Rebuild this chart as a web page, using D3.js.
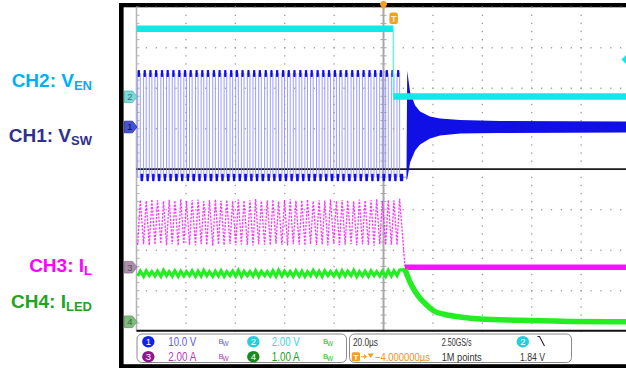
<!DOCTYPE html>
<html><head><meta charset="utf-8">
<script src="https://cdn.jsdelivr.net/npm/d3@7"></script>
<style>body{margin:0;background:#fff;overflow:hidden} svg{display:block}</style>
</head><body><svg id="c" width="626" height="368"></svg>
<script>
// ---------------- DATA ----------------
// time axis: 20 µs/div, 10 divisions; t = 0 at trigger (CH2 falling edge)
const timeDomain = [-104, 96];
const channelLabels = ["CH2: V", "CH1: V", "CH3: I", "CH4: I"];
const channelSubs = ["EN", "SW", "L", "LED"];
const voltsPerDiv = [10, 2, 2, 1];          // CH1..CH4
const scaleTexts = ["10.0 V", "2.00 V", "2.00 A", "1.00 A"];
// CH2 (EN)
const enTime = [-104, 0, 0, 96];
const enVolt = [3.36, 3.36, 0.02, 0.02];
const trigLevel = 1.84;
// CH1 (SW) switching pulses: centre times of the high phase (µs)
const swPulseCenter = [-103.0,-100.6,-98.3,-96.0,-93.6,-91.3,-89.0,-86.6,-84.3,-82.0,
  -79.6,-77.3,-75.0,-72.6,-70.3,-68.0,-65.6,-63.3,-61.0,-58.6,-56.3,-54.0,-51.6,-49.3,
  -47.0,-44.6,-42.3,-40.0,-37.6,-35.3,-33.0,-30.6,-28.3,-26.0,-23.6,-21.3,-19.0,-16.6,
  -14.3,-12.0,-9.6,-7.3,-5.0,-2.6,-0.3,2.0];
const swHalfWidth = 0.53;                   // µs
const swHigh = 13.2, swLow = -12.4;         // V
// CH1 ringing envelope after shutdown
const ringTime  = [5.3, 5.6, 6.8, 8.8, 10.8, 14.8, 18.9, 27, 43, 96];
const ringUpper = [-12.3, 13.3, 7.9, 4.7, 3.2, 2.0, 1.5, 1.1, 0.86, 0.75];
const ringLower = [-12.4, -12.3, -8.1, -5.2, -3.7, -2.2, -1.5, -1.0, -0.86, -0.74];
// CH3 (IL) ripple peaks / valleys per switching cycle (A)
const ilPeak = [3.32,3.28,3.35,3.30,3.26,3.33,3.29,3.36,3.27,3.31,3.34,3.25,3.30,3.35,3.28,3.32,
  3.26,3.34,3.29,3.31,3.36,3.27,3.30,3.33,3.25,3.32,3.35,3.28,3.30,3.34,3.26,3.31,3.29,3.35,
  3.27,3.32,3.30,3.26,3.34,3.29,3.31,3.36,3.28,3.32,3.30,3.38];
const ilValley = [1.10,1.14,1.08,1.12,1.16,1.09,1.13,1.07,1.15,1.11,1.08,1.14,1.10,1.06,1.13,
  1.09,1.15,1.08,1.12,1.10,1.07,1.14,1.11,1.09,1.15,1.10,1.07,1.13,1.11,1.08,1.14,1.10,1.12,
  1.07,1.15,1.09,1.11,1.14,1.08,1.12,1.10,1.06,1.13,1.09,1.11,1.10];
const ilOffTime = [4.7, 96];
const ilOffAmp = [0.0, 0.0];
// CH4 (ILED) ripple
const iledPeak = [1.25,1.26,1.24,1.25,1.27,1.24,1.26,1.25,1.24,1.26,1.25,1.27,1.24,1.25,1.26,1.24,
  1.25,1.27,1.25,1.24,1.26,1.25,1.24,1.26,1.27,1.25,1.24,1.26,1.25,1.24,1.27,1.25,1.26,1.24,
  1.25,1.26,1.25,1.27,1.24,1.25,1.26,1.24,1.25,1.27,1.26,1.28];
const iledValley = [1.13,1.12,1.14,1.13,1.12,1.14,1.13,1.12,1.13,1.14,1.12,1.13,1.14,1.12,1.13,
  1.12,1.14,1.13,1.12,1.14,1.13,1.12,1.14,1.13,1.12,1.13,1.14,1.12,1.13,1.12,1.14,1.13,1.12,
  1.14,1.13,1.12,1.13,1.14,1.12,1.13,1.12,1.14,1.13,1.12,1.13,1.14];
const iledDecayTime = [4.7, 6.8, 8.8, 10.8, 13.6, 16.1, 20.9, 27.0, 35.1, 51.3, 71.5, 96];
const iledDecayAmp  = [1.29, 0.97, 0.75, 0.58, 0.41, 0.28, 0.18, 0.12, 0.07, 0.04, 0.01, 0.0];
// acquisition info
const timeBase = "20.0µs", sampleRate = "2.50GS/s", recordLen = "1M points";
const trigDelay = "−4.000000µs", trigLevelText = "1.84 V";

// ---------------- LAYOUT ----------------
const W = 626, H = 368;
const svg = d3.select('#c');
const gx0 = 136.5, gx1 = 630.5, gy0 = 7.2, gy1 = 331.2;
const divX = (gx1 - gx0) / 10, divY = (gy1 - gy0) / 8;
const x = d3.scaleLinear().domain(timeDomain).range([gx0, gx1]);
const chScale = (perDiv, zeroY) => d3.scaleLinear().domain([0, perDiv]).range([zeroY, zeroY - divY]);
const y1 = chScale(voltsPerDiv[0], 127.0);
const y2 = chScale(voltsPerDiv[1], 96.8);
const y3 = chScale(voltsPerDiv[2], 267.2);
const y4 = chScale(voltsPerDiv[3], 321.8);
const C = {en:'#12e8e8', sw:'#1010e6', swEdge:'#9090ff', il:'#ff10ff', iled:'#22ee22'};

// frame
svg.append('rect').attr('x',119).attr('y',3).attr('width',W-119).attr('height',4.3).attr('fill','#000');
svg.append('rect').attr('x',119).attr('y',3).attr('width',4.6).attr('height',H-3).attr('fill','#000');
svg.append('rect').attr('x',119).attr('y',364.2).attr('width',W-119).attr('height',4).attr('fill','#000');

// graticule
const grid = svg.append('g');
for (let i = 1; i <= 9; i++) {
  if (i === 5) continue;
  const gx = gx0 + i * divX;
  for (let j = 0; j <= 40; j++) grid.append('rect').attr('x', gx - 0.6).attr('y', gy0 + j * divY / 5 - 0.6)
    .attr('width', 1.3).attr('height', 1.3).attr('fill', '#9a9a9a');
}
for (let j = 0; j <= 7; j++) {
  if (j === 4) continue;
  const gy = gy0 + j * divY;
  for (let i = 0; i <= 50; i++) grid.append('rect').attr('x', gx0 + i * divX / 5 - 0.6).attr('y', gy - 0.6)
    .attr('width', 1.3).attr('height', 1.3).attr('fill', '#9a9a9a');
}
const xc = gx0 + 5 * divX, yc = gy0 + 4 * divY;
grid.append('line').attr('x1', xc).attr('x2', xc).attr('y1', gy0).attr('y2', gy1).attr('stroke', '#a8a8a8').attr('stroke-width', 2);
grid.append('line').attr('x1', gx0).attr('x2', gx0).attr('y1', gy0).attr('y2', gy1).attr('stroke', '#b4b4b4').attr('stroke-width', 1.5);
for (let j = 0; j <= 40; j++) {
  const gy = gy0 + j * divY / 5;
  grid.append('line').attr('x1', xc - 3).attr('x2', xc + 3).attr('y1', gy).attr('y2', gy).attr('stroke', '#a8a8a8');
  grid.append('line').attr('x1', gx0).attr('x2', gx0 + 3).attr('y1', gy).attr('y2', gy).attr('stroke', '#b4b4b4');
}
grid.append('line').attr('x1', gx0).attr('x2', W).attr('y1', yc).attr('y2', yc).attr('stroke', '#1a1a1a').attr('stroke-width', 1.8);
grid.append('line').attr('x1', gx0).attr('x2', W).attr('y1', gy1 - 0.5).attr('y2', gy1 - 0.5).attr('stroke', '#111').attr('stroke-width', 2);

// clip for traces
svg.append('clipPath').attr('id', 'clip').append('rect').attr('x', gx0).attr('y', gy0).attr('width', W - gx0).attr('height', gy1 - gy0);
const tr = svg.append('g').attr('clip-path', 'url(#clip)');
const line = d3.line();

// CH1 switching waveform
const swPts = [];
swPulseCenter.forEach((c, k) => {
  const r = c - swHalfWidth, f = c + swHalfWidth;
  swPts.push([x(r), y1(swLow)], [x(r), y1(swHigh)], [x(f), y1(swHigh)], [x(f), y1(swLow)]);
});
swPts.push([x(ringTime[0]), y1(swLow)]);
tr.append('path').attr('d', line(swPts)).attr('fill', 'none').attr('stroke', C.swEdge).attr('stroke-width', 0.9);
swPulseCenter.forEach((c, k) => {
  const r = c - swHalfWidth, f = c + swHalfWidth;
  const nr = k + 1 < swPulseCenter.length ? swPulseCenter[k + 1] - swHalfWidth : ringTime[0];
  tr.append('rect').attr('x', x(r)).attr('y', y1(swHigh) - 3.5).attr('width', Math.max(1, x(f) - x(r) - 0.3)).attr('height', 7)
    .attr('rx', 0.8).attr('fill', C.sw);
  tr.append('rect').attr('x', x(f) + 0.2).attr('y', y1(swLow) - 3.5).attr('width', Math.max(1, Math.min(x(nr) - x(f), 4) - 0.6)).attr('height', 7.5)
    .attr('rx', 0.8).attr('fill', C.sw);
});
// ringing envelope
const ringArea = d3.area().x((d, i) => x(ringTime[i])).y0((d, i) => y1(ringLower[i]) + 2.5).y1((d, i) => y1(ringUpper[i]) - 2.5);
tr.append('path').attr('d', ringArea(ringTime)).attr('fill', C.sw);

// CH2 enable
for (let i = 0; i < enTime.length - 1; i++) {
  const vertical = enTime[i] === enTime[i + 1];
  tr.append('line').attr('x1', x(enTime[i])).attr('x2', x(enTime[i + 1])).attr('y1', y2(enVolt[i])).attr('y2', y2(enVolt[i + 1]))
    .attr('stroke', vertical ? '#70eaea' : C.en).attr('stroke-width', vertical ? 1.5 : 6.5);
}

// CH3 inductor current
const ilPts = [];
swPulseCenter.forEach((c, k) => {
  ilPts.push([x(c - swHalfWidth), y3(ilValley[k])], [x(c + swHalfWidth), y3(ilPeak[k])]);
});
ilPts.push([x(ilOffTime[0]), y3(ilOffAmp[0])]);
tr.append('path').attr('d', line(ilPts)).attr('fill', 'none').attr('stroke', C.il).attr('stroke-width', 1.3)
  .attr('stroke-dasharray', '2.2,1.3').attr('opacity', 0.85);
tr.append('path').attr('d', line(ilOffTime.map((t, i) => [x(t), y3(ilOffAmp[i])]))).attr('fill', 'none')
  .attr('stroke', C.il).attr('stroke-width', 5.5);

// CH4 LED current
const ledPts = [];
swPulseCenter.forEach((c, k) => {
  ledPts.push([x(c - swHalfWidth), y4(iledValley[k])], [x(c + swHalfWidth), y4(iledPeak[k])]);
});
ledPts.push([x(iledDecayTime[0]), y4(iledDecayAmp[0])]);
tr.append('path').attr('d', line(ledPts)).attr('fill', 'none').attr('stroke', C.iled).attr('stroke-width', 3.2);
tr.append('path').attr('d', d3.line().curve(d3.curveMonotoneX)(iledDecayTime.map((t, i) => [x(t), y4(iledDecayAmp[i])])))
  .attr('fill', 'none').attr('stroke', C.iled).attr('stroke-width', 5.5);

// channel reference markers
function marker(yv, fill, stroke, label, tcol) {
  const g = svg.append('g');
  g.append('path').attr('d', `M124.5,${yv - 5.8} L132.5,${yv - 5.8} L137,${yv} L132.5,${yv + 5.8} L124.5,${yv + 5.8} Z`)
    .attr('fill', fill).attr('stroke', stroke).attr('stroke-width', 0.8).attr('stroke-linejoin', 'round');
  g.append('text').attr('x', 130).attr('y', yv + 3.3).attr('text-anchor', 'middle').attr('font-size', 9.5)
    .attr('font-family', 'Liberation Sans, Arial, sans-serif').attr('fill', tcol).text(label);
}
marker(y2(0), '#7adada', '#4fb8b8', '2', '#4a6a6a');
marker(y1(0), '#4452d6', '#2a2aa0', '1', '#101050');
marker(y3(0), '#a890a8', '#8a708a', '3', '#5a4a5a');
marker(y4(0), '#80bc80', '#5a9a5a', '4', '#3a5a3a');

// trigger markers
svg.append('path').attr('d', `M${xc - 3.5},4.5 A3.5,3.5 0 1 1 ${xc + 3.5},4.5 L${xc},10 Z`).attr('fill', '#f0a024');
const tx = x(0);
svg.append('rect').attr('x', tx - 4).attr('y', 12.5).attr('width', 8.5).attr('height', 11.5).attr('rx', 2.5).attr('fill', '#f0a024');
svg.append('text').attr('x', tx + 0.3).attr('y', 21.5).attr('text-anchor', 'middle').attr('font-size', 9).attr('font-weight', 'bold')
  .attr('font-family', 'Liberation Sans, Arial, sans-serif').attr('fill', '#fff3d0').text('T');
const tly = y2(trigLevel);
svg.append('path').attr('d', `M626,${tly - 4.5} L621.5,${tly} L626,${tly + 4.5} Z`).attr('fill', C.en);

// left labels
const labelColors = ['#00b0f0', '#2e3192', '#ff00ff', '#22a322'];
const labelY = [87.3, 142.3, 272.3, 308.3];
channelLabels.forEach((l, i) => {
  const t = svg.append('text').attr('x', 92).attr('y', labelY[i]).attr('text-anchor', 'end')
    .attr('font-family', 'Liberation Sans, Arial, sans-serif').attr('font-weight', 'bold').attr('fill', labelColors[i]);
  t.append('tspan').attr('font-size', 19).text(l);
  t.append('tspan').attr('font-size', 13).attr('dy', 2.2).text(channelSubs[i]);
});

// ---------------- info bar ----------------
const font = 'Liberation Sans, Arial, sans-serif';
svg.append('rect').attr('x', 137).attr('y', 334).attr('width', 209.5).attr('height', 28.5).attr('rx', 5)
  .attr('fill', '#fff').attr('stroke', '#8a8a8a').attr('stroke-width', 1);
svg.append('rect').attr('x', 349.5).attr('y', 334).attr('width', 222).attr('height', 28.5).attr('rx', 5)
  .attr('fill', '#fff').attr('stroke', '#8a8a8a').attr('stroke-width', 1);
function txt(xp, yp, s, col, size, len) {
  const t = svg.append('text').attr('x', xp).attr('y', yp).attr('font-family', font).attr('font-size', size).attr('fill', col).text(s);
  if (len) t.attr('textLength', len).attr('lengthAdjust', 'spacingAndGlyphs');
  return t;
}
function badge(cx, cy, fill, label) {
  svg.append('ellipse').attr('cx', cx).attr('cy', cy).attr('rx', 6.2).attr('ry', 5.8).attr('fill', fill);
  txt(cx, cy + 3.4, label, '#fff', 9.5).attr('text-anchor', 'middle');
}
function bw(xp, yp, col) {
  txt(xp, yp - 2, 'B', col, 7.5);
  txt(xp + 4, yp, 'W', col, 6.5);
}
const row1 = 346, row2 = 361;
badge(148.3, 341.7, '#1020f0', '1');
txt(168.3, row1, scaleTexts[0], '#5a5af5', 12, 28);
bw(218.5, row1, '#6a5ae0');
badge(253.3, 341.7, '#22cfe0', '2');
txt(271.7, row1, scaleTexts[1], '#3cd6d6', 12, 28);
bw(323, row1, '#2ab82a');
badge(148.3, 356.7, '#8c1a8c', '3');
txt(168.3, row2, scaleTexts[2], '#b43ab4', 12, 28);
bw(218.5, row2, '#b040b0');
badge(253.3, 356.7, '#1a8a1a', '4');
txt(271.7, row2, scaleTexts[3], '#22a022', 12, 28);
bw(323, row2, '#2ab82a');

txt(353, row1, timeBase, '#333', 11.5, 25);
txt(441.7, row1, sampleRate, '#333', 11.5, 30);
badge(522.8, 341.7, '#22cfe0', '2');
svg.append('path').attr('d', 'M537.5,336.5 L539.5,336.5 L544.5,346').attr('fill', 'none').attr('stroke', '#222').attr('stroke-width', 1.1);
svg.append('rect').attr('x', 351.7).attr('y', 352.3).attr('width', 8.3).attr('height', 9).attr('rx', 1.5).attr('fill', '#f0a024');
txt(355.9, 359.8, 'T', '#fff', 8).attr('text-anchor', 'middle').attr('font-weight', 'bold');
svg.append('path').attr('d', 'M361,356.7 L366,356.7 M364,354.7 L366.3,356.7 L364,358.7').attr('fill', 'none').attr('stroke', '#f0a024').attr('stroke-width', 1.1);
svg.append('path').attr('d', 'M367.5,353.5 L374,353.5 L370.7,358 Z').attr('fill', '#f0a024');
txt(375, row2, trigDelay, '#f09020', 11.5, 55);
txt(441.7, row2, recordLen, '#333', 11.5, 40);
txt(520, row2, trigLevelText, '#333', 11.5, 25);
</script></body></html>
